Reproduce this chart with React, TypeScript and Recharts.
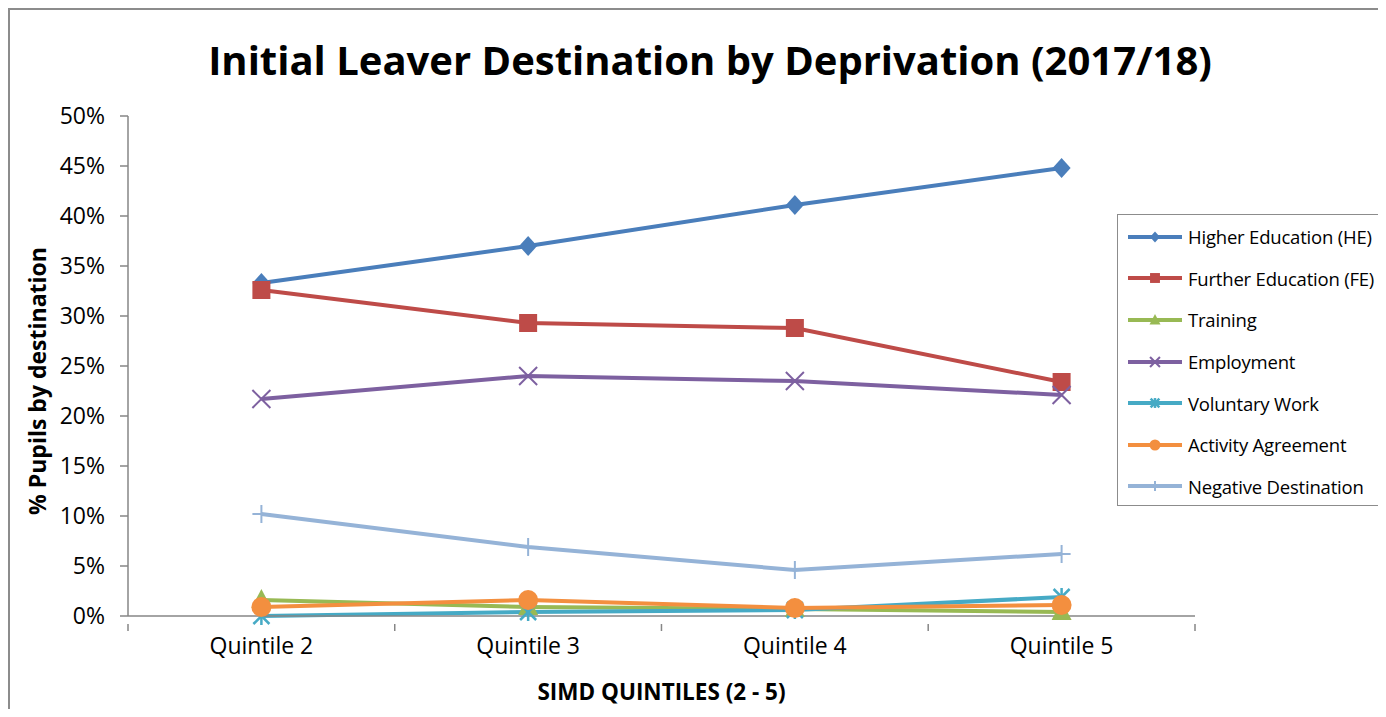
import React from 'react';
import { LineChart, Line, XAxis, YAxis } from 'recharts';

const quintiles = ['Quintile 2', 'Quintile 3', 'Quintile 4', 'Quintile 5'];
const higherEducation = [33.3, 37.0, 41.1, 44.8];
const furtherEducation = [32.6, 29.3, 28.8, 23.4];
const training = [1.6, 0.9, 0.7, 0.4];
const employment = [21.7, 24.0, 23.5, 22.1];
const voluntaryWork = [0.0, 0.4, 0.6, 1.9];
const activityAgreement = [0.9, 1.6, 0.8, 1.1];
const negativeDestination = [10.2, 6.9, 4.6, 6.2];
const yTicks = [0, 5, 10, 15, 20, 25, 30, 35, 40, 45, 50];

const data = quintiles.map((q, i) => ({
  name: q,
  he: higherEducation[i],
  fe: furtherEducation[i],
  training: training[i],
  employment: employment[i],
  voluntary: voluntaryWork[i],
  activity: activityAgreement[i],
  negative: negativeDestination[i],
}));

const FONT = '"Open Sans", "Noto Sans", sans-serif';

type Shape = 'diamond' | 'square' | 'triangle' | 'x' | 'star' | 'circle' | 'plus';

const series: { key: string; name: string; color: string; shape: Shape }[] = [
  { key: 'he', name: 'Higher Education (HE)', color: '#4A7EBB', shape: 'diamond' },
  { key: 'fe', name: 'Further Education (FE)', color: '#BE4B48', shape: 'square' },
  { key: 'training', name: 'Training', color: '#98B954', shape: 'triangle' },
  { key: 'employment', name: 'Employment', color: '#7D60A0', shape: 'x' },
  { key: 'voluntary', name: 'Voluntary Work', color: '#46AAC5', shape: 'star' },
  { key: 'activity', name: 'Activity Agreement', color: '#F38F3F', shape: 'circle' },
  { key: 'negative', name: 'Negative Destination', color: '#95B3D7', shape: 'plus' },
];

function Marker({ cx, cy, shape, color, s = 1 }: { cx: number; cy: number; shape: Shape; color: string; s?: number }) {
  switch (shape) {
    case 'diamond':
      return <polygon points={`${cx},${cy - 10 * s} ${cx + 9 * s},${cy} ${cx},${cy + 10 * s} ${cx - 9 * s},${cy}`} fill={color} />;
    case 'square':
      return <rect x={cx - 9 * s} y={cy - 9 * s} width={18 * s} height={18 * s} fill={color} />;
    case 'triangle':
      return <polygon points={`${cx},${cy - 11 * s} ${cx + 10 * s},${cy + 8 * s} ${cx - 10 * s},${cy + 8 * s}`} fill={color} />;
    case 'x':
      return (
        <g stroke={color} strokeWidth={2}>
          <line x1={cx - 9 * s} y1={cy - 9 * s} x2={cx + 9 * s} y2={cy + 9 * s} />
          <line x1={cx - 9 * s} y1={cy + 9 * s} x2={cx + 9 * s} y2={cy - 9 * s} />
        </g>
      );
    case 'star':
      return (
        <g stroke={color} strokeWidth={2.5}>
          <line x1={cx - 8 * s} y1={cy - 8 * s} x2={cx + 8 * s} y2={cy + 8 * s} />
          <line x1={cx - 8 * s} y1={cy + 8 * s} x2={cx + 8 * s} y2={cy - 8 * s} />
          <line x1={cx} y1={cy - 9 * s} x2={cx} y2={cy + 9 * s} />
        </g>
      );
    case 'circle':
      return <circle cx={cx} cy={cy} r={10 * s} fill={color} />;
    case 'plus':
      return (
        <g stroke={color} strokeWidth={2}>
          <line x1={cx} y1={cy - 9 * s} x2={cx} y2={cy + 9 * s} />
          <line x1={cx - 9 * s} y1={cy} x2={cx + 9 * s} y2={cy} />
        </g>
      );
  }
  return null;
}

const makeDot = (shape: Shape, color: string) => (props: any) => {
  const { cx, cy, index } = props;
  if (cx == null || cy == null) return <g key={index} />;
  return <Marker key={index} cx={cx} cy={cy} shape={shape} color={color} />;
};

function XTick(props: any) {
  const { x, y, payload, index } = props;
  const half = 133.4;
  return (
    <g>
      <line x1={x - half} y1={y} x2={x - half} y2={y + 7} stroke="#868686" strokeWidth={1.5} />
      {index === quintiles.length - 1 && (
        <line x1={x + half} y1={y} x2={x + half} y2={y + 7} stroke="#868686" strokeWidth={1.5} />
      )}
      <text x={x} y={y + 30} textAnchor="middle" fontFamily={FONT} fontSize={23} fill="#000">
        {payload.value}
      </text>
    </g>
  );
}

function LegendBox() {
  return (
    <div
      style={{
        position: 'absolute',
        left: 1107,
        top: 204,
        width: 266,
        height: 292,
        border: '1px solid #8c8c8c',
        background: '#fff',
        boxSizing: 'border-box',
        paddingTop: 1,
      }}
    >
      {series.map((s) => (
        <div key={s.key} style={{ display: 'flex', alignItems: 'center', height: 41.6 }}>
          <svg width={70} height={24} style={{ flex: 'none' }}>
            <line x1={10} y1={12} x2={64} y2={12} stroke={s.color} strokeWidth={4} />
            <Marker cx={37} cy={12} shape={s.shape} color={s.color} s={0.55} />
          </svg>
          <span style={{ fontFamily: FONT, fontSize: 18.5, color: '#000', whiteSpace: 'nowrap', letterSpacing: -0.2 }}>
            {s.name}
          </span>
        </div>
      ))}
    </div>
  );
}

export default function App() {
  return (
    <div
      style={{
        position: 'relative',
        width: 1378,
        height: 701,
        borderLeft: '2px solid #8c8c8c',
        borderTop: '2px solid #8c8c8c',
        boxSizing: 'border-box',
        overflow: 'hidden',
        background: '#fff',
      }}
    >
      <div
        style={{
          position: 'absolute',
          top: 22,
          left: 0,
          width: 1400,
          textAlign: 'center',
          fontFamily: FONT,
          fontWeight: 700,
          fontSize: 40,
          color: '#000',
        }}
      >
        Initial Leaver Destination by Deprivation (2017/18)
      </div>
      <div style={{ position: 'absolute', left: -2, top: -2 }}>
        <LineChart width={1378} height={701} data={data} margin={{ top: 108, right: 191, left: 40, bottom: 53 }}>
          <XAxis
            dataKey="name"
            padding={{ left: 133.4, right: 133.4 }}
            stroke="#868686"
            strokeWidth={1.5}
            tickLine={false}
            tick={<XTick />}
            height={40}
            interval={0}
            label={{
              value: 'SIMD QUINTILES (2 - 5)',
              position: 'insideBottom',
              offset: -44,
              style: { fontFamily: FONT, fontWeight: 700, fontSize: 22.5, fill: '#000' },
            }}
          />
          <YAxis
            domain={[0, 50]}
            ticks={yTicks}
            interval={0}
            width={80}
            stroke="#868686"
            strokeWidth={1.5}
            tickSize={8}
            tickMargin={15}
            tickFormatter={(v: number) => `${v}%`}
            tick={{ fontFamily: FONT, fontSize: 23, fill: '#000' }}
            label={{
              value: '% Pupils by destination',
              angle: -90,
              position: 'insideLeft',
              offset: -10,
              dy: 15,
              style: { textAnchor: 'middle', fontFamily: FONT, fontWeight: 700, fontSize: 23, fill: '#000' },
            }}
          />
          {series.map((s) => (
            <Line
              key={s.key}
              type="linear"
              dataKey={s.key}
              name={s.name}
              stroke={s.color}
              strokeWidth={4}
              dot={makeDot(s.shape, s.color)}
              activeDot={false}
              isAnimationActive={false}
            />
          ))}
        </LineChart>
      </div>
      <LegendBox />
    </div>
  );
}
